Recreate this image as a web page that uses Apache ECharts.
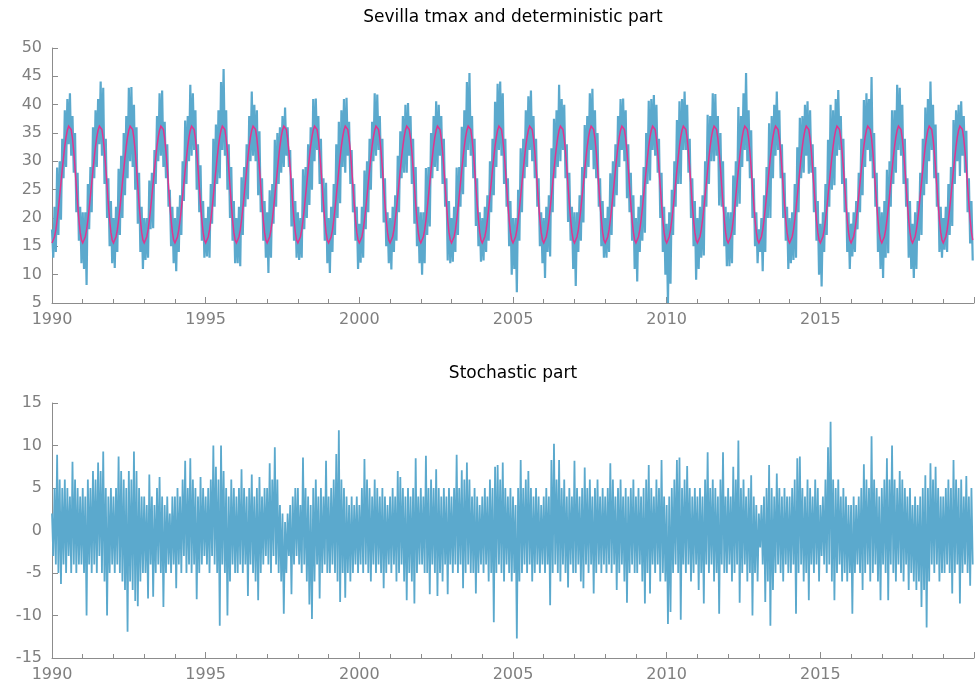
<!DOCTYPE html>
<html><head><meta charset="utf-8">
<script src="https://cdn.jsdelivr.net/npm/echarts@6/dist/echarts.min.js"></script>
<style>html,body{margin:0;padding:0;background:#fff}#c{width:976px;height:689px}</style>
</head><body><div id="c"></div>
<script>
const startYear = 1990;
const endYear = 2020;
const pointsPerYear = 24;
const titles = ['Sevilla tmax and deterministic part', 'Stochastic part'];

// deterministic (seasonal) part over one year, read every half month
const detYear = [15.6,15.9,16.7,17.9,19.6,21.6,23.9,26.2,28.5,30.7,32.7,34.3,35.5,36.2,36.3,35.6,34.0,31.7,28.8,25.6,22.5,19.7,17.5,16.1];

// tmax, half-monthly readings of the band (alternating local highs / lows)
const tmax = [
18,13,22,14,28.9,17,30,19.7,34,27,39,29,41,33,42,31,38,28,35,21,28,16,22,12,
21,11,21,8.2,26,18,29,21,36,27,39,29,41,33,44.1,31,43,26,34,20,27,15,23,12,
20,11.2,22,14,28.7,17,31,20,35,24,38,27,43,30,43.1,29,40,25,36,19,28,14,22,11,
20,12.6,20,13,26.6,18,28,18.2,32,26,38,30,42,31,42.5,29,37,27,33,22,25,15,22,12,
20,10.6,22,14,24,17,30,23,37.2,26,38,30,43.5,31,42,32,39,25,33,21,29.3,16,23,13,
20,13.2,22,13,26,19,34,22,36.5,26,39,27,44,32,46.3,31,39,25,33,20,29,16,23,12,
20,12,22,11.5,27.2,17,29,22,33,23.3,38,30,42.3,31,40,30,39,24,35.3,21,27,16,23,13,
21,10.3,24.9,13,26,19,33.8,22,35,26,36,28,38,29,39.5,31,36,29,32,18.5,27,16,23,13,
21,12.6,20,13,28.6,18,29,20,33,22.3,36,25,41,30,41.1,32,38,26,34,21,27,16,26.2,12,
20,10.3,22,14,26,17,33,20,37,22.6,39,29,41,28,41.2,31,37,26,32,21,26,16,22,11,
19,12.1,22,13,28.4,18,30,21,34,25,37,30,42,31,41.8,32,38,27,34,19.2,27,15,21,12,
20,10.9,22,14,24,16,31,21,35.3,27,38,28,40,28,40.3,31,38,26,34,19,29,15,22,12,
21,10,21,12,28.8,17,29,18.5,35,27,38,29,40.6,28.3,40,31,38,26,34,22,27,12.5,23,12,
20,12.3,22,14,28.9,17,29,22,36.1,24.2,39,29,44,32,45.6,31,38,27,34,18.6,27,15,21,12.3,
20,12.5,22,14,24,16,30,21,34,24,40.5,29,43.7,32,44.1,31,42,26,34,22,27,15,23,10,
20,11,20,6.9,25,16,32.3,21,34,27,39,29,41.5,32,42.5,30,38,27,34,22,27,15,21,12,
20,9.4,22,14,24,13.2,32.3,21,37.5,27,39,29,43.5,30,41,32,40,27,33,19.3,28,16,22,11,
21,8,21,14,24,16,29,19.2,36.4,27,38,29,42,32,42.8,28.6,39,27,35,22,27,15,23,13,
20,13,22,14,27.9,17,30,22,33,24,38,29,41,32,41.1,30,39,23.5,33,21,28,16,24,11,
20,8.8,22,14,24,16,29,17.4,35,26,40.7,26.6,41,32,41.7,31,40,28,34,20,28,14,22,10,
19,5,21,8.4,25,17,30,22,37.3,26,40.6,26,41,32,42.3,32,40,28,34,20,27,15,23,9.1,
20,11,22,13,24,13.4,30,22,38.2,26,38,30,42,30,41.9,31,38,22.2,35,22,30,15,22,11.5,
21,11.5,21,12,27.5,17,30,22,39.6,22.5,38,29,42,32,45.6,30,39,27,35.5,20,27,15,21,12,
18,14,20,10.6,24,14,29,20,36.7,20,38,27,40,31,42.3,32,39,27,33,20,28,16,22,11,
20,12,21,12.6,26,13,32.5,21,37.7,27,38,28,40,31,40.6,27.8,39,28,33,21,29,16,23,10,
19,7.9,21,14,26,17,33.8,22,40,25,39,25.8,41,31,42.6,32,38,26,34,21,27,14,21,11,
19,13.2,21,14,23,18,28,21,34,24,40.8,29,42,32,41,30,44.9,27,35,22,28,14,22,11,
21,9.4,23,13,28.5,13.8,30,22,39,26,39,28,43.5,32,43,31,40,26,34,22,27,13,23,11,
19,9.4,21,11,23,16,28,17,34,24,39.5,26,41,30,44.1,32,40,27,36.5,22,28,14,22,13,
20,14.4,22,14,26,17,29,18.6,37.3,26,39,30,40,27.4,40.6,31,38,28,35.4,21,27,15.5,23,12.5
];

// stochastic part, half-monthly readings of the band
const stochastic = [
2,-3,5,-4,8.9,-5,6,-6.3,5,-4,6,-5,5,-3,4,-5,8.1,-4,6,-5,5,-4,4,-4,
5,-5,4,-10,6,-4,5,-5,7,-4,6,-5,8,-3,7,-5,9.3,-6,5,-10,4,-5,5,-4,
4,-5,5,-4,8.7,-5,7,-6,6,-7,5,-11.9,7,-6,6,-7,9.3,-8.3,7,-8.9,5,-6,4,-5,
4,-5,3,-8,6.6,-4,4,-7.8,3,-5,5,-4,6.3,-5,4,-9,3,-5,4,-4,2,-5,4,-4,
4,-6.8,5,-4,4,-5,6,-3,8.2,-5,5,-4,8.5,-5,6,-4,5,-8.1,4,-5,6.3,-4,5,-3,
4,-4,5,-5,6,-3,10,-4,7.5,-5,6,-11.2,10,-4,7,-5,5,-10,4,-6,6,-4,5,-5,
4,-5,5,-4,7.2,-5,5,-4,4,-7.7,5,-4,6.6,-5,4,-6,5,-8.2,6.3,-5,4,-4,5,-3,
5,-4,7.9,-5,6,-3,9.8,-4,6,-5,3,-6,2,-9.8,1,-5,2,-3,3,-7.5,4,-4,5,-3,
5,-4,3,-5,8.6,-4,5,-6,4,-8.7,3,-10.4,5,-6,6,-4,4,-8,5,-5,4,-4,8.2,-5,
4,-5,5,-4,6,-5,9,-6,11.8,-8.4,6,-5,5,-7.9,4,-5,3,-6,4,-5,3,-4,4,-5,
3,-4,5,-5,8.4,-4,6,-5,5,-6,4,-4,6,-5,5,-4,4,-5,5,-6.8,4,-5,3,-4,
4,-5,5,-4,4,-6,7,-5,6.3,-4,5,-6,4,-8.2,5,-5,4,-6,5,-8.6,8.5,-5,4,-4,
5,-4,4,-5,8.8,-5,5,-7.5,6,-4,5,-5,7.2,-7.7,5,-5,4,-6,5,-4,4,-7.5,5,-4,
4,-5,5,-4,8.9,-5,5,-4,7.1,-6.8,6,-5,8,-4,6,-5,4,-5,5,-7.4,4,-5,3,-4,
4,-5,5,-4,4,-6,6,-5,5,-10.8,7.5,-5,7.7,-4,6,-5,8,-6,5,-4,4,-5,5,-6,
4,-5,3,-12.7,5,-6,8.3,-5,5,-4,6,-5,7,-4,5,-6,4,-5,5,-4,4,-5,3,-4,
4,-5,5,-4,4,-8.8,8.3,-5,10.2,-4,6,-5,8.3,-6,5,-4,6,-5,4,-6.7,5,-4,4,-5,
8.2,-5,5,-4,4,-6,5,-6.8,7.4,-4,5,-5,6,-4,4,-7.4,5,-5,6,-4,4,-5,5,-4,
4,-5,5,-4,7.9,-5,6,-4,4,-7,5,-5,6,-4,4,-6,5,-8.5,4,-5,5,-4,6,-5,
4,-5,5,-4,4,-6,5,-8.6,6,-5,7.7,-7.4,5,-4,4,-5,6,-4,5,-6,8.3,-5,4,-6,
3,-11,4,-9.6,5,-5,6,-4,8.3,-5,8.6,-10.5,5,-4,6,-5,7.6,-4,5,-6,4,-5,5,-4,
4,-7,5,-5,4,-8.6,6,-4,9.2,-5,5,-4,6,-6,5,-5,4,-9.8,6,-4,9.2,-5,4,-5,
5,-4,4,-6,7.5,-5,6,-4,10.6,-8.5,5,-5,6,-4,4,-6,5,-5,6.5,-10,4,-5,3,-6,
2,-2,3,-4,4,-8.4,5,-6,7.7,-11.2,5,-7,4,-5,6.7,-4,5,-5,4,-6,5,-4,4,-5,
4,-5,5,-4,6,-9.8,8.5,-5,8.7,-4,5,-6,4,-5,6,-8.2,5,-4,4,-5,6,-4,5,-6,
3,-3,4,-4,6,-5,9.8,-4,12.8,-6,6,-8.2,5,-5,6,-4,4,-6,5,-5,4,-6,3,-5,
3,-9.8,4,-5,3,-4,4,-5,5,-7,7.8,-5,6,-4,5,-6,11.1,-5,6,-4,5,-6,4,-8.2,
5,-4,6,-5,8.5,-8.2,6,-4,10,-5,6,-6,5,-4,7,-5,6,-6,5,-4,4,-7,5,-5,
3,-6,4,-7,3,-6,4,-9,5,-7,6.5,-11.4,5,-6,7.9,-4,6,-5,7.5,-4,5,-6,4,-5,
4,-5,5,-4,6,-5,5,-7.4,8.3,-5,6,-4,5,-8.6,6,-5,4,-4,6.4,-5,4,-6.5,5,-4
];

const topRange = [5, 50];
const bottomRange = [-15, 15];
const yInterval = 5;
const xInterval = 5;

const blue = '#5BA9CD';
const pink = '#E2338E';
const axisColor = '#8c8c8c';
const labelColor = '#7f7f7f';
const font = 'DejaVu Sans';

const nYears = endYear - startYear;
const detValues = [];
for (let y = 0; y < nYears; y++) detValues.push(...detYear);

function toPairs(vals) {
  return vals.map((v, i) => [startYear + i / pointsPerYear, v]);
}

function xAxisCfg(gi) {
  return {
    type: 'value', gridIndex: gi, min: startYear, max: endYear, interval: xInterval,
    axisLine: { show: true, onZero: false, lineStyle: { color: axisColor, width: 1 } },
    axisTick: { show: true, inside: true, length: 6, lineStyle: { color: axisColor } },
    minorTick: { show: true, splitNumber: 5, length: 4, lineStyle: { color: axisColor } },
    splitLine: { show: false },
    axisLabel: { color: labelColor, fontSize: 16, fontFamily: font, margin: 9, showMaxLabel: false,
      formatter: v => String(v) }
  };
}
function yAxisCfg(gi, range) {
  return {
    type: 'value', gridIndex: gi, min: range[0], max: range[1], interval: yInterval,
    axisLine: { show: true, onZero: false, lineStyle: { color: axisColor, width: 1 } },
    axisTick: { show: true, inside: true, length: 6, lineStyle: { color: axisColor } },
    splitLine: { show: false },
    axisLabel: { color: labelColor, fontSize: 16, fontFamily: font, margin: 10 }
  };
}
function lineSeries(xi, data, color, width, z) {
  return {
    type: 'line', xAxisIndex: xi, yAxisIndex: xi, data: data,
    showSymbol: false, symbol: 'none', sampling: null, animation: false, z: z,
    lineStyle: { color: color, width: width, join: 'miter' }, itemStyle: { color: color }
  };
}

const chart = echarts.init(document.getElementById('c'), null, { renderer: 'canvas' });
chart.setOption({
  animation: false,
  backgroundColor: '#ffffff',
  title: [
    { text: titles[0], left: 513, top: 9, textAlign: 'center', padding: 0,
      textStyle: { fontSize: 17, fontWeight: 'normal', color: '#000', fontFamily: font } },
    { text: titles[1], left: 513, top: 365, textAlign: 'center', padding: 0,
      textStyle: { fontSize: 17, fontWeight: 'normal', color: '#000', fontFamily: font } }
  ],
  grid: [
    { left: 52, right: 2, top: 48, height: 255 },
    { left: 52, right: 2, top: 403, height: 255 }
  ],
  xAxis: [xAxisCfg(0), xAxisCfg(1)],
  yAxis: [yAxisCfg(0, topRange), yAxisCfg(1, bottomRange)],
  series: [
    lineSeries(0, toPairs(tmax), blue, 2.2, 2),
    lineSeries(0, toPairs(detValues), pink, 1.5, 3),
    lineSeries(1, toPairs(stochastic), blue, 1.8, 2)
  ]
});
</script>
</body></html>
